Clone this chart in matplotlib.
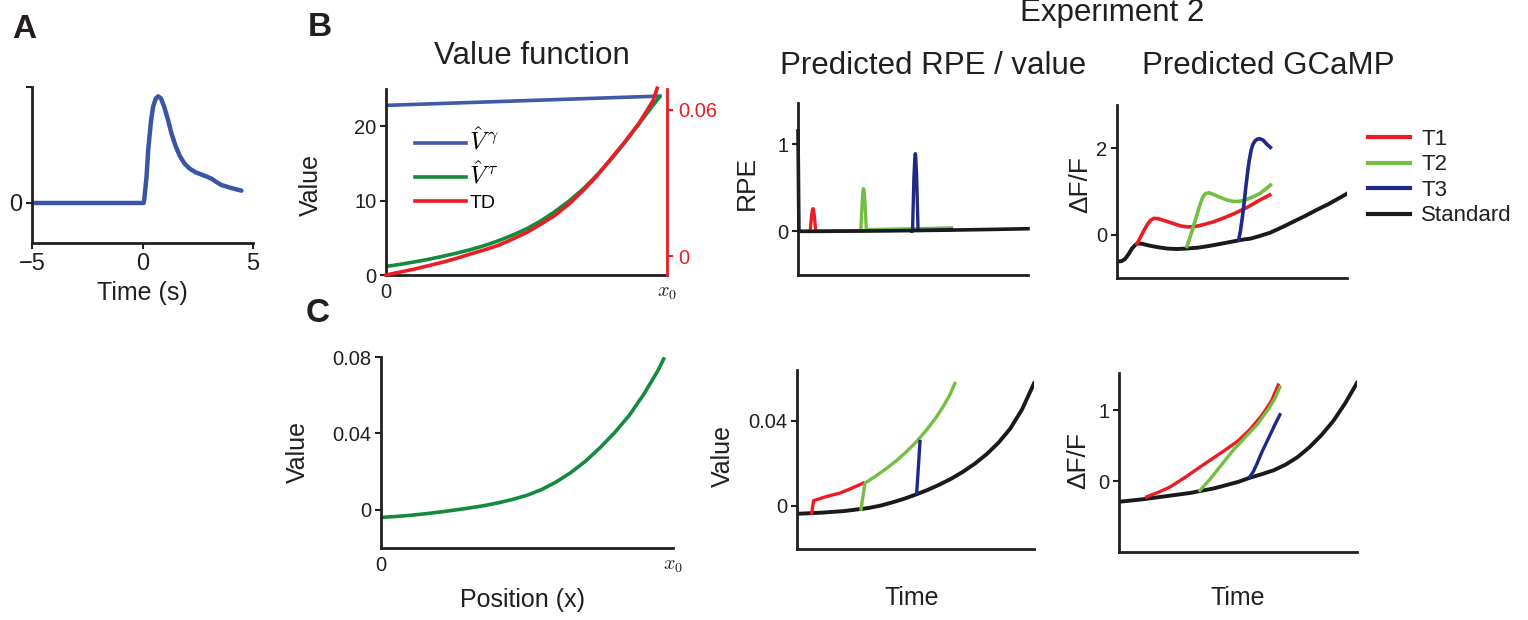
"""
Value function / Experiment 2 model predictions
"""
import numpy as np
import matplotlib
matplotlib.use('Agg')
import matplotlib.pyplot as plt
from matplotlib.lines import Line2D

plt.rcParams['font.family'] = ['Liberation Sans', 'DejaVu Sans']

INK = '#231f20'
RED = '#ec1c24'
LGREEN = '#72bf44'
NAVY = '#1f2a86'
BLUE = '#3a55a4'
DGREEN = '#138a3c'

# ---- A: averaged response (time in s)
a_time = [-5, 0.05, 0.08, 0.18, 0.26, 0.38, 0.48, 0.6, 0.71, 0.84, 0.98, 1.15,
          1.31, 1.5, 1.69, 1.9, 2.14, 2.4, 2.67, 2.9, 3.12, 3.35, 3.57, 4.0, 4.48]
a_resp = [0, 0, 0.03, 0.22, 0.46, 0.7, 0.83, 0.9, 0.92, 0.9, 0.83, 0.72,
          0.6, 0.49, 0.405, 0.34, 0.295, 0.265, 0.245, 0.228, 0.21, 0.18, 0.155, 0.13, 0.106]

# ---- B: value functions over position (0 .. x0)
b_pos = [0, .05, .1, .15, .2, .25, .3, .35, .4, .45, .5, .55, .6, .65, .7,
         .75, .8, .85, .9, .95, .973]
v_gamma_pos = [0, 0.975]
v_gamma = [22.8, 24.05]
v_tau = [1.15, 1.43, 1.75, 2.1, 2.5, 2.93, 3.4, 3.95, 4.6, 5.35, 6.2, 7.25,
         8.5, 9.9, 11.5, 13.4, 15.5, 17.8, 20.3, 22.8, 23.9]
td_pos = [0, .05, .1, .15, .2, .25, .3, .35, .4, .45, .5, .55, .6, .65, .7,
          .75, .8, .85, .9, .95, .965]
td_value = [-0.0078, -0.0066, -0.0054, -0.0040, -0.0026, -0.0010, 0.0008,
            0.0025, 0.0044, 0.0069, 0.0096, 0.0130, 0.0166, 0.0212, 0.0267,
            0.0328, 0.0399, 0.0469, 0.0545, 0.0637, 0.0689]

# ---- C: value over position
c_pos = [0, .05, .1, .15, .2, .25, .3, .35, .4, .45, .5, .55, .6, .65, .7,
         .75, .8, .85, .9, .95, .968]
c_value = [-0.004, -0.0035, -0.0029, -0.0021, -0.0012, -0.0002, 0.0009,
           0.0021, 0.0036, 0.0054, 0.0076, 0.0106, 0.0146, 0.0195, 0.0254,
           0.0325, 0.0404, 0.0494, 0.0605, 0.0733, 0.079]

# ---- Experiment 2, RPE (normalised time)
rpe_std_t = [0, 0.004, 0.1, 0.2, 0.3, 0.4, 0.5, 0.6, 0.7, 0.8, 0.9, 1.0]
rpe_std = [1.15, 0, 0.0, 0.002, 0.004, 0.006, 0.009, 0.012, 0.016, 0.02, 0.025, 0.03]
rpe_t1_t = [0.0, 0.053, 0.059, 0.063, 0.065, 0.067, 0.071, 0.077, 0.2, 0.35, 0.45]
rpe_t1 = [0, 0, 0.18, 0.25, 0.26, 0.25, 0.18, 0.004, 0.006, 0.01, 0.012]
rpe_t2_t = [0.27, 0.273, 0.279, 0.283, 0.285, 0.287, 0.291, 0.297, 0.4, 0.5, 0.6, 0.667]
rpe_t2 = [0.0, 0.0, 0.34, 0.47, 0.49, 0.47, 0.34, 0.02, 0.025, 0.03, 0.035, 0.04]
rpe_t3_t = [0.495, 0.498, 0.504, 0.508, 0.51, 0.512, 0.516, 0.522, 0.6, 0.667]
rpe_t3 = [0.0, 0.0, 0.62, 0.85, 0.89, 0.85, 0.62, 0.01, 0.015, 0.02]

# ---- Experiment 2, predicted GCaMP
gc_std_t = [0, 0.02, 0.035, 0.05, 0.065, 0.08, 0.095, 0.11, 0.14, 0.18, 0.22,
            0.26, 0.3, 0.35, 0.4, 0.45, 0.5, 0.55, 0.58, 0.62, 0.667, 0.72,
            0.77, 0.82, 0.87, 0.92, 0.96, 1.0]
gc_std = [-0.62, -0.61, -0.56, -0.45, -0.32, -0.23, -0.2, -0.21, -0.25, -0.29,
          -0.32, -0.33, -0.32, -0.3, -0.26, -0.21, -0.16, -0.11, -0.09, -0.03,
          0.05, 0.18, 0.31, 0.44, 0.58, 0.71, 0.83, 0.95]
gc_t1_t = [0.087, 0.1, 0.115, 0.13, 0.145, 0.16, 0.18, 0.21, 0.25, 0.28, 0.31,
           0.34, 0.38, 0.42, 0.46, 0.51, 0.565, 0.62, 0.664]
gc_t1 = [-0.21, -0.08, 0.08, 0.22, 0.33, 0.38, 0.37, 0.32, 0.25, 0.2, 0.18,
         0.19, 0.24, 0.3, 0.38, 0.49, 0.63, 0.8, 0.92]
gc_t2_t = [0.304, 0.315, 0.33, 0.345, 0.36, 0.372, 0.384, 0.4, 0.42, 0.45, 0.48,
           0.507, 0.53, 0.555, 0.58, 0.62, 0.645, 0.667]
gc_t2 = [-0.27, -0.1, 0.15, 0.42, 0.68, 0.86, 0.95, 0.97, 0.93, 0.86, 0.8,
         0.77, 0.77, 0.8, 0.85, 0.95, 1.05, 1.15]
gc_t3_t = [0.529, 0.537, 0.545, 0.553, 0.56, 0.568, 0.575, 0.583, 0.59, 0.6,
           0.61, 0.62, 0.635, 0.65, 0.667]
gc_t3 = [-0.12, 0.1, 0.4, 0.75, 1.1, 1.45, 1.72, 1.95, 2.08, 2.17, 2.21, 2.22,
         2.19, 2.1, 2.02]

# ---- Experiment 2, value
val_std_t = [0, 0.1, 0.2, 0.3, 0.35, 0.4, 0.45, 0.5, 0.55, 0.6, 0.65, 0.7,
             0.75, 0.8, 0.85, 0.9, 0.95, 1.0]
val_std = [-0.0038, -0.0033, -0.0025, -0.0011, 0.0, 0.0015, 0.0032, 0.0052,
           0.0074, 0.0099, 0.0127, 0.016, 0.0198, 0.0243, 0.0297, 0.0364,
           0.0455, 0.0577]
val_t1_t = [0.062, 0.07, 0.12, 0.182, 0.23, 0.28]
val_t1 = [-0.0035, 0.0024, 0.0042, 0.006, 0.0082, 0.0107]
val_t2_t = [0.27, 0.287, 0.33, 0.379, 0.42, 0.463, 0.505, 0.547, 0.585, 0.617,
            0.645, 0.666]
val_t2 = [-0.0016, 0.0107, 0.0138, 0.0177, 0.0213, 0.0256, 0.0303, 0.0358,
          0.0413, 0.0468, 0.0523, 0.0577]
val_t3_t = [0.505, 0.512, 0.519]
val_t3 = [0.006, 0.018, 0.0303]

# ---- Experiment 2, GCaMP from value
gv_std_t = [0, .1, .2, .3, .4, .5, .55, .6, .65, .7, .75, .8, .85, .9, .95, 1.0]
gv_std = [-0.29, -0.255, -0.21, -0.165, -0.1, -0.01, 0.05, 0.1, 0.155, 0.235,
          0.34, 0.48, 0.65, 0.85, 1.1, 1.39]
gv_t1_t = [0.116, 0.17, 0.215, 0.28, 0.34, 0.41, 0.45, 0.5, 0.55, 0.6, 0.64, 0.669]
gv_t1 = [-0.22, -0.15, -0.08, 0.06, 0.2, 0.36, 0.45, 0.57, 0.73, 0.93, 1.13, 1.36]
gv_t2_t = [0.34, 0.38, 0.43, 0.48, 0.53, 0.58, 0.63, 0.655, 0.676]
gv_t2 = [-0.13, 0.02, 0.23, 0.44, 0.62, 0.8, 1.03, 1.17, 1.33]
gv_t3_t = [0.549, 0.565, 0.58, 0.6, 0.63, 0.655, 0.676]
gv_t3 = [0.06, 0.14, 0.25, 0.41, 0.62, 0.8, 0.94]

W, H = 1528, 620
fig = plt.figure(figsize=(W / 100, H / 100), dpi=100)


def box(l, t, r, b):
    ax = fig.add_axes([l / W, 1 - b / H, (r - l) / W, (b - t) / H])
    ax.patch.set_alpha(0)
    for s in ['top', 'right']:
        ax.spines[s].set_visible(False)
    for s in ['left', 'bottom']:
        ax.spines[s].set_linewidth(2)
        ax.spines[s].set_color(INK)
    ax.tick_params(direction='out', length=4, width=1.5, color=INK,
                   labelcolor=INK, labelsize=14.5, pad=3)
    return ax


def label(x, y, s, size=18, rot=0, **kw):
    fig.text(x / W, 1 - y / H, s, ha='center', va='center', fontsize=size,
             rotation=rot, color=INK, **kw)


def x0_ticks(ax):
    ax.set_xticks([0, 1])
    ax.set_xticklabels(['0', '$x_0$'])
    ax.get_xticklabels()[1].set_math_fontfamily('cm')
    ax.tick_params(axis='x', length=0, pad=6)


# A
ax = box(32, 87, 253, 243)
ax.plot(a_time, a_resp, color=BLUE, lw=3.2, solid_capstyle='round',
        solid_joinstyle='round')
ax.set_xlim(-5, 5)
ax.set_ylim(-0.345, 1.0)
ax.set_xticks([-5, 0, 5])
ax.set_yticks([0, 1])
ax.set_yticklabels(['0', ''])
ax.tick_params(labelsize=17)
label(142, 293, 'Time (s)')

# B
ax = box(386, 89, 667, 275)
ax.plot(v_gamma_pos, v_gamma, color='#3f5aa8', lw=2.6, label=r'$\hat{V}^{\,\gamma}$')
ax.plot(b_pos, v_tau, color=DGREEN, lw=2.6, label=r'$\hat{V}^{\,\tau}$')
ax.plot([], [], color=RED, lw=2.6, label='TD')
ax.set_xlim(0, 1)
ax.set_ylim(0, 25)
ax.set_yticks([0, 10, 20])
x0_ticks(ax)
leg = ax.legend(loc='upper left', bbox_to_anchor=(0.04, 0.89), frameon=False,
                fontsize=14, handlelength=2.65, handletextpad=0.15, labelspacing=0.3)
for t in leg.get_texts()[:2]:
    t.set_math_fontfamily('cm')
    t.set_fontsize(18)
axr = ax.twinx()
axr.patch.set_alpha(0)
for s in ['top', 'left', 'bottom']:
    axr.spines[s].set_visible(False)
axr.spines['right'].set_color(RED)
axr.spines['right'].set_linewidth(2)
axr.plot(td_pos, td_value, color=RED, lw=2.6, clip_on=False)
axr.set_ylim(-0.0078, 0.0686)
axr.set_yticks([0, 0.06])
axr.set_yticklabels(['0', '0.06'])
axr.tick_params(direction='out', length=4, width=1.5, color=RED,
                labelcolor=RED, labelsize=14.5, pad=4)
label(311, 185, 'Value', rot=90)

# C
ax = box(381, 357, 673, 548)
ax.plot(c_pos, c_value, color=DGREEN, lw=2.6)
ax.set_xlim(0, 1)
ax.set_ylim(-0.02, 0.08)
ax.set_yticks([0, 0.04, 0.08])
ax.set_yticklabels(['0', '0.04', '0.08'])
x0_ticks(ax)
label(298, 452, 'Value', rot=90)
label(522, 600, 'Position (x)')

# Experiment 2: RPE
ax = box(798, 103, 1028, 275)
ax.plot(rpe_t1_t, rpe_t1, color=RED, lw=2.4)
ax.plot(rpe_t2_t, rpe_t2, color=LGREEN, lw=2.4)
ax.plot(rpe_t3_t, rpe_t3, color=NAVY, lw=2.4)
ax.plot(rpe_std_t, rpe_std, color='#1a1a1a', lw=2.6, clip_on=False)
ax.set_xlim(0, 1)
ax.set_ylim(-0.5, 1.47)
ax.set_xticks([])
ax.set_yticks([0, 1])
label(747, 183, 'RPE', size=19, rot=90)

# Experiment 2: GCaMP
ax = box(1117, 105, 1347, 278)
ax.plot(gc_std_t, gc_std, color='#1a1a1a', lw=2.8)
ax.plot(gc_t1_t, gc_t1, color=RED, lw=2.6)
ax.plot(gc_t2_t, gc_t2, color=LGREEN, lw=2.6)
ax.plot(gc_t3_t, gc_t3, color=NAVY, lw=2.6)
ax.set_xlim(0, 1)
ax.set_ylim(-1, 3)
ax.set_xticks([])
ax.set_yticks([0, 2])
label(1080, 185, 'ΔF/F', size=19, rot=90)

handles = [Line2D([], [], color=RED, lw=3),
           Line2D([], [], color=LGREEN, lw=3),
           Line2D([], [], color=NAVY, lw=3),
           Line2D([], [], color='#1a1a1a', lw=3)]
fig.legend(handles, ['T1', 'T2', 'T3', 'Standard'], loc='upper left',
           bbox_to_anchor=(1348 / W, 1 - 109 / H), frameon=False, fontsize=16,
           handlelength=1.9, handletextpad=0.5, labelspacing=0.2,
           labelcolor=INK)

# Experiment 2: value
ax = box(797, 370, 1034, 549)
ax.plot(val_std_t, val_std, color='#1a1a1a', lw=2.8)
ax.plot(val_t1_t, val_t1, color=RED, lw=2.4)
ax.plot(val_t2_t, val_t2, color=LGREEN, lw=2.4)
ax.plot(val_t3_t, val_t3, color=NAVY, lw=2.4)
ax.set_xlim(0, 1)
ax.set_ylim(-0.0204, 0.064)
ax.set_xticks([])
ax.set_yticks([0, 0.04])
ax.set_yticklabels(['0', '0.04'])
label(723, 456, 'Value', rot=90)
label(912, 598, 'Time')

# Experiment 2: GCaMP from value
ax = box(1119, 373, 1357, 552)
ax.plot(gv_std_t, gv_std, color='#1a1a1a', lw=2.8)
ax.plot(gv_t1_t, gv_t1, color=RED, lw=2.4)
ax.plot(gv_t2_t, gv_t2, color=LGREEN, lw=2.4)
ax.plot(gv_t3_t, gv_t3, color=NAVY, lw=2.4)
ax.set_xlim(0, 1)
ax.set_ylim(-1, 1.53)
ax.set_xticks([])
ax.set_yticks([0, 1])
label(1078, 461, 'ΔF/F', size=19, rot=90)
label(1238, 598, 'Time')

# titles and panel letters
label(532, 56, 'Value function', size=22.5)
label(1112, 13, 'Experiment 2', size=22.5)
label(933, 66, 'Predicted RPE / value', size=22.5)
label(1268, 66, 'Predicted GCaMP', size=22.5)
label(24, 30, 'A', size=24, fontweight='bold')
label(320, 28, 'B', size=24, fontweight='bold')
label(318, 313, 'C', size=24, fontweight='bold')

fig.savefig('out.png', dpi=100)
